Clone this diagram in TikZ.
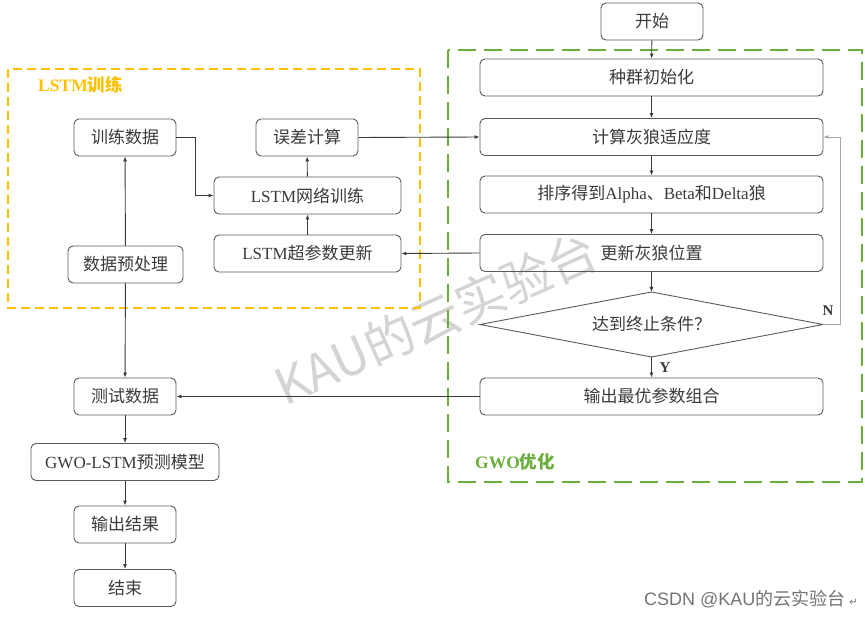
\documentclass[tikz,border=0pt]{standalone}
\usepackage{fontspec}
\setmainfont{Noto Sans CJK SC}
\newfontfamily\latfont{Liberation Serif}
\newfontfamily\arialfont{Liberation Sans}
\newfontfamily\symfont{DejaVu Sans}
\newcommand{\latw}[1]{{\latfont #1}}
\usetikzlibrary{arrows.meta}
\definecolor{boxgray}{HTML}{5A5A5A}
\definecolor{txtgray}{HTML}{3A3A3A}
\definecolor{lstmorange}{HTML}{FFC000}
\definecolor{gwogreen}{HTML}{6AAE3C}
\tikzset{
  boxfont/.style={font=\fontsize{17}{20}\selectfont},
  box/.style={draw=boxgray, rounded corners=5pt, line width=0.9pt, minimum height=37pt,
    inner sep=0pt, text=txtgray, boxfont},
  conn/.style={draw=txtgray, line width=0.9pt, -{Latex[length=5pt,width=4pt]}},
  loopline/.style={draw=gray!70, line width=0.9pt, -{Latex[length=5pt,width=4pt]}},
  grouplabel/.style={font=\bfseries\fontsize{17.5}{20}\selectfont, inner sep=0pt},
  yn/.style={text=txtgray, font=\latfont\bfseries\fontsize{15}{17}\selectfont, inner sep=0pt}
}
\begin{document}
\begin{tikzpicture}[x=1pt,y=-1pt]
\useasboundingbox (0,0) rectangle (865,617);
% watermark
\node[text=black!17, rotate=24, font=\fontsize{50}{54}\selectfont, inner sep=0] (wm) at (436,318) {KAU的云实验台};
% group frames
\draw[lstmorange, line width=2pt, dash pattern=on 9pt off 5pt] (8,69) rectangle (420,308);
\node[grouplabel, text=lstmorange, anchor=west] (lstmlbl) at (38,85) {\latw{\bfseries LSTM}训练};
\draw[gwogreen, line width=2pt, dash pattern=on 18pt off 8pt] (448,50) rectangle (862,482);
\node[grouplabel, text=gwogreen, anchor=west] (gwolbl) at (475,462) {\latw{\bfseries GWO}优化};
% GWO column
\node[box, minimum width=102pt] (start) at (652,21.5) {开始};
\node[box, minimum width=343pt] (init) at (651.5,77.5) {种群初始化};
\node[box, minimum width=343pt] (fit) at (651.5,137) {计算灰狼适应度};
\node[box, minimum width=343pt] (sort) at (651.5,194.5) {排序得到\latw{Alpha}、\latw{Beta}和\latw{Delta}狼};
\node[box, minimum width=343pt] (upd) at (651.5,253) {更新灰狼位置};
% decision diamond
\coordinate (dtop) at (651.5,292);
\coordinate (dright) at (823,324.5);
\coordinate (dbot) at (651.5,357);
\coordinate (dleft) at (480,324.5);
\draw[draw=boxgray, line width=0.9pt] (dtop) -- (dright) -- (dbot) -- (dleft) -- cycle;
\node[text=txtgray, boxfont, inner sep=0pt] (dec) at (651.5,324.5) {达到终止条件？};
\node[box, minimum width=343pt] (best) at (651.5,396.5) {输出最优参数组合};
% LSTM part
\node[box, minimum width=102pt] (train) at (125,137.5) {训练数据};
\node[box, minimum width=102pt] (err) at (307,137.5) {误差计算};
\node[box, minimum width=187pt] (net) at (307.5,195.5) {\latw{LSTM}网络训练};
\node[box, minimum width=187pt] (hyp) at (307.5,253.5) {\latw{LSTM}超参数更新};
\node[box, minimum width=115pt] (pre) at (125.5,264.5) {数据预处理};
% bottom left column
\node[box, minimum width=102pt] (test) at (125,396.5) {测试数据};
\node[box, minimum width=188pt] (model) at (125,462) {\latw{GWO-LSTM}预测模型};
\node[box, minimum width=102pt] (out) at (125,524.5) {输出结果};
\node[box, minimum width=102pt] (end) at (125,588) {结束};
% connectors GWO
\draw[conn] (start) -- (init);
\draw[conn] (init) -- (fit);
\draw[conn] (fit) -- (sort);
\draw[conn] (sort) -- (upd);
\draw[conn] (upd) -- (dtop);
\draw[conn] (dbot) -- (best);
\node[yn] (ylbl) at (665,368) {Y};
\coordinate (loopc) at (840,324.5);
\draw[loopline] (dright) -- (loopc) -- (loopc |- fit.east) -- (fit.east);
\node[yn] (nlbl) at (828,311) {N};
% connectors LSTM
\draw[conn] (err.east) -- (fit.west);
\draw[conn] (upd.west) -- (hyp.east);
\draw[conn] (hyp) -- (net);
\draw[conn] (net) -- (err);
\coordinate (tj) at (195,137.5);
\draw[conn] (train.east) -- (tj) -- (tj |- net.west) -- (net.west);
\draw[conn] (pre) -- (train);
\draw[conn] (pre) -- (test);
\draw[conn] (best.west) -- (test.east);
\draw[conn] (test) -- (model);
\draw[conn] (model) -- (out);
\draw[conn] (out) -- (end);
% footer
\node[anchor=east, text=black!55, font=\fontsize{18}{20}\selectfont, inner sep=0] (csdn) at (858,599)
  {{\arialfont CSDN @KAU}的云实验台 {\symfont\fontsize{10}{11}\selectfont ↵}};
\end{tikzpicture}
\end{document}
